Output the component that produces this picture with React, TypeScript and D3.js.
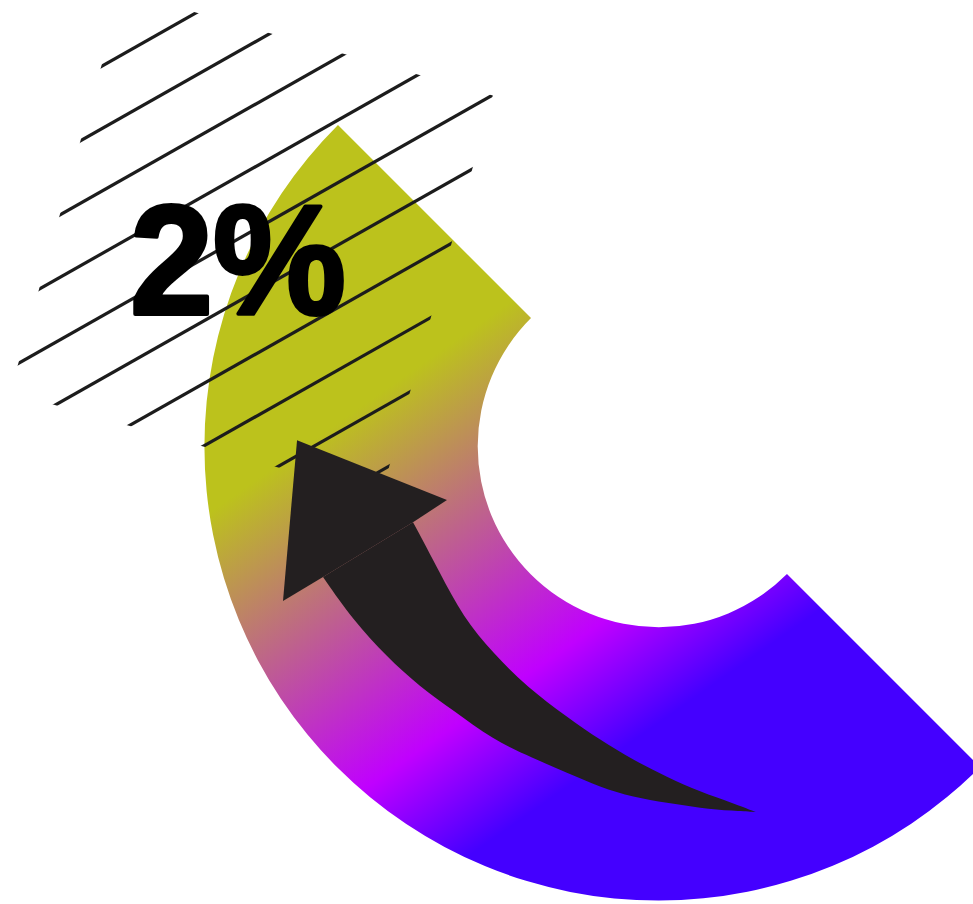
import * as d3 from "d3";

const W = 973;
const H = 904;

// ring (d3 angle convention: 0 = up, clockwise, degrees)
const RING_CENTER: [number, number] = [659, 446];
const RING_RADII: [number, number] = [181, 454];
const RING_ANGLES: [number, number] = [135, 315];

// gradient runs along a 55deg diagonal, yellow -> magenta -> blue
const GRADIENT_ANGLE = 55;
const GRADIENT_RANGE: [number, number] = [540, 970];
const GRADIENT_STOPS = [
  { offset: 0, color: "#bcc21c" },
  { offset: 0.733, color: "#c000ff" },
  { offset: 1, color: "#4400ff" },
];

// arrow outline in polar form [angle deg, radius] around the ring centre
const ARROW_INNER: [number, number][] = [
  [252.8, 257.5], [239.9, 253.2], [228.9, 260.1], [218.7, 265.3],
  [208.7, 274.8], [198.7, 286.2], [191.3, 299.9], [184.7, 315.1],
  [178.6, 331.1], [173.2, 348.4], [168.3, 364.6], [165.2, 378.6],
];
const ARROW_OUTER: [number, number][] = [
  [165.2, 378.6], [168.5, 372.4], [173.5, 364.3], [178.7, 357.1],
  [184.2, 352], [189.8, 346.1], [195.7, 339.7], [202, 336.5],
  [209.5, 337.6], [218, 334.9], [224.8, 339.4], [232.2, 344.2],
  [240.4, 352], [248.7, 360.6],
];
const ARROW_HEAD: [number, number][] = [
  [252.8, 257.5], [255.7, 218.8], [270.9, 362], [247.6, 406.7], [248.7, 360.6],
];

// hatch block: rotated rectangle, lines at fixed angle & spacing
const HATCH_BOX = { cx: 251.5, cy: 244, w: 385, h: 416, rotate: 15.6 };
const HATCH_ANGLE = -29.5;
const HATCH_FIRST = 107.7;
const HATCH_STEP = 54.4;
const HATCH_COUNT = 10;

const LABEL = "2%";

const rad = (deg: number) => (deg * Math.PI) / 180;

export default function App() {
  const [cx, cy] = RING_CENTER;

  const ringPath = d3.arc()({
    innerRadius: RING_RADII[0],
    outerRadius: RING_RADII[1],
    startAngle: rad(RING_ANGLES[0]),
    endAngle: rad(RING_ANGLES[1]),
  } as any) as string;

  const toXY = ([a, r]: [number, number]) => d3.pointRadial(rad(a), r) as [number, number];
  const smooth = d3.line().curve(d3.curveBasis);
  const straight = d3.line();
  const shaftPath =
    (smooth(ARROW_INNER.map(toXY)) as string) +
    (smooth(ARROW_OUTER.map(toXY)) as string).replace(/^M/, "L") +
    "Z";
  const headPath = (straight(ARROW_HEAD.map(toXY)) as string) + "Z";

  // gradient vector in the ring's local (centred) coordinates
  const gDir = [Math.cos(rad(GRADIENT_ANGLE)), Math.sin(rad(GRADIENT_ANGLE))];
  const g1 = GRADIENT_RANGE.map((s) => [s * gDir[0] - cx, s * gDir[1] - cy]);

  const d = [Math.cos(rad(HATCH_ANGLE)), Math.sin(rad(HATCH_ANGLE))];
  const n = [-d[1], d[0]];
  const hatch = d3.range(HATCH_COUNT).map((i) => {
    const c = HATCH_FIRST + i * HATCH_STEP;
    const p = [c * n[0], c * n[1]];
    return {
      x1: p[0] - 800 * d[0], y1: p[1] - 800 * d[1],
      x2: p[0] + 800 * d[0], y2: p[1] + 800 * d[1],
    };
  });

  return (
    <svg
      width={W}
      height={H}
      viewBox={`0 0 ${W} ${H}`}
      style={{ position: "absolute", left: 0, top: 0, display: "block", background: "#fff" }}
    >
      <defs>
        <linearGradient
          id="ringGrad"
          gradientUnits="userSpaceOnUse"
          x1={g1[0][0]} y1={g1[0][1]} x2={g1[1][0]} y2={g1[1][1]}
        >
          {GRADIENT_STOPS.map((s) => (
            <stop key={s.offset} offset={s.offset} stopColor={s.color} />
          ))}
        </linearGradient>
        <clipPath id="hatchClip">
          <rect
            x={-HATCH_BOX.w / 2} y={-HATCH_BOX.h / 2}
            width={HATCH_BOX.w} height={HATCH_BOX.h}
            transform={`translate(${HATCH_BOX.cx},${HATCH_BOX.cy}) rotate(${HATCH_BOX.rotate})`}
          />
        </clipPath>
      </defs>

      <path d={ringPath} transform={`translate(${cx},${cy})`} fill="url(#ringGrad)" />

      <g clipPath="url(#hatchClip)" stroke="#1c1c1c" strokeWidth={3.2}>
        {hatch.map((l, i) => (
          <line key={i} {...l} />
        ))}
      </g>

      <text
        x={130}
        y={314}
        fontFamily="'Liberation Sans', Arial, Helvetica, sans-serif"
        fontWeight={900}
        fontSize={156}
        textLength={216}
        lengthAdjust="spacingAndGlyphs"
        fill="#000"
        stroke="#000"
        strokeWidth={4}
        strokeLinejoin="round"
      >
        {LABEL}
      </text>

      <g transform={`translate(${cx},${cy})`} fill="#231f20">
        <path d={shaftPath} />
        <path d={headPath} />
      </g>
    </svg>
  );
}
